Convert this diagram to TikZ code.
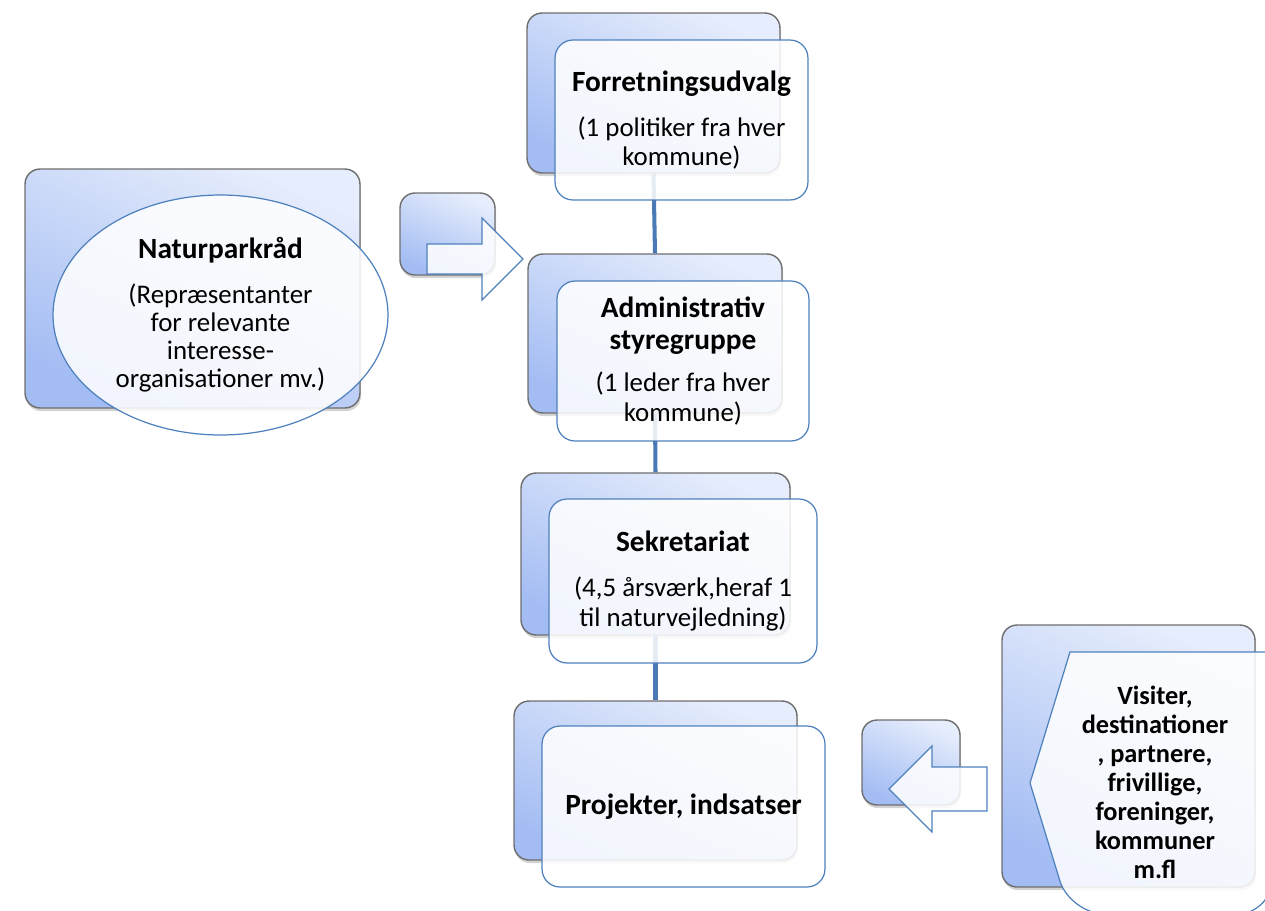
\documentclass[tikz,border=0pt]{standalone}
\usepackage{fontspec}
\setmainfont{Carlito}
\usetikzlibrary{shadows,shapes.geometric}
\definecolor{bordergray}{HTML}{6E6E6E}
\definecolor{toplight}{HTML}{E6EDFC}
\definecolor{botblue}{HTML}{A3BCF3}
\definecolor{frontblue}{HTML}{4F81BD}
\definecolor{linkblue}{HTML}{4A7AB5}
\newcommand{\ttlfont}{\bfseries\fontsize{16.7}{16.8}\selectfont}
\newcommand{\bodyfont}{\fontsize{15.3}{16.8}\selectfont}
\tikzset{
  backbox/.style={draw=bordergray, line width=0.8pt, rounded corners=0.3cm,
    top color=toplight, bottom color=botblue, shading angle=-25, inner sep=0pt,
    drop shadow={shadow xshift=0.6pt, shadow yshift=-1.8pt, opacity=0.35}},
  frontbox/.style={draw=frontblue, line width=0.7pt, rounded corners=0.36cm,
    fill=white, fill opacity=0.86, text opacity=1, align=center, inner sep=0pt,
    font=\bodyfont},
  blockarrow/.style={draw=frontblue, line width=0.7pt, fill=white, fill opacity=0.86},
  link/.style={draw=linkblue, line width=2.3pt},
  lbl/.style={align=center, font=\bfseries\fontsize{15}{16.5}\selectfont},
}
\begin{document}
\begin{tikzpicture}[x=0.02cm, y=-0.02cm]
\useasboundingbox (0,0) rectangle (1265,910);
% back boxes
\node[backbox, minimum width=5.06cm, minimum height=3.20cm] (B1) at (653.5,93) {};
\node[backbox, minimum width=5.08cm, minimum height=3.18cm] (B2) at (655,333.5) {};
\node[backbox, minimum width=5.38cm, minimum height=3.24cm] (B3) at (655.5,554) {};
\node[backbox, minimum width=5.66cm, minimum height=3.18cm] (B4) at (655.5,780.5) {};
\node[backbox, minimum width=6.70cm, minimum height=4.78cm] (B5) at (192.5,288.5) {};
\node[backbox, minimum width=1.90cm, minimum height=1.64cm] (S1) at (447.5,234) {};
\node[backbox, minimum width=5.06cm, minimum height=5.24cm] (B6) at (1128.5,756) {};
\node[backbox, minimum width=1.96cm, minimum height=1.70cm] (S2) at (911,762.5) {};
% connectors
\draw[link] (B1.south) -- (B2.north);
\draw[link] (B2.south) -- (B3.north);
\draw[link] (B3.south) -- (B4.north);
% front boxes
\node[frontbox, minimum width=5.06cm, minimum height=3.20cm] (F1) at (681.5,120)
  {{\ttlfont Forretningsudvalg}\\[9pt](1 politiker fra hver\\kommune)};
\node[frontbox, minimum width=5.04cm, minimum height=3.20cm] (F2) at (683,361)
  {{\ttlfont Administrativ}\\[1.2pt]{\ttlfont styregruppe}\\[7.5pt](1 leder fra hver\\kommune)};
\node[frontbox, minimum width=5.36cm, minimum height=3.28cm] (F3) at (683,581)
  {{\ttlfont Sekretariat}\\[8.7pt](4,5 årsværk,heraf 1\\til naturvejledning)};
\node[frontbox, minimum width=5.66cm, minimum height=3.22cm] (F4) at (683.5,806.5)
  {{\ttlfont Projekter, indsatser}};
% block arrows
\draw[blockarrow] (427,244) -- (482,244) -- (482,218) -- (523,259) -- (482,300) -- (482,274) -- (427,274) -- cycle;
\draw[blockarrow] (987,767) -- (932,767) -- (932,746) -- (889,789) -- (932,832) -- (932,811) -- (987,811) -- cycle;
% ellipse
\node[ellipse, draw=frontblue, line width=0.7pt, fill=white, fill opacity=0.86, text opacity=1,
  minimum width=6.70cm, minimum height=4.80cm, inner sep=0pt, align=center,
  font=\fontsize{15.3}{16}\selectfont] (E5) at (220.5,315)
  {{\ttlfont Naturparkråd}\\[9.5pt](Repræsentanter\\for relevante\\interesse-\\organisationer mv.)};
% right pointed shape
\begin{scope}
\clip (0,0) rectangle (1265,910);
\draw[blockarrow] (1030,783) -- (1070,652) -- (1272,652) [rounded corners=0.7cm] -- (1272,914) -- (1070,914) [sharp corners] -- cycle;
\end{scope}
\node[lbl] (T6) at (1155,782)
  {Visiter,\\destinationer\\, partnere,\\frivillige,\\foreninger,\\kommuner\\m.fl};
\end{tikzpicture}
\end{document}
